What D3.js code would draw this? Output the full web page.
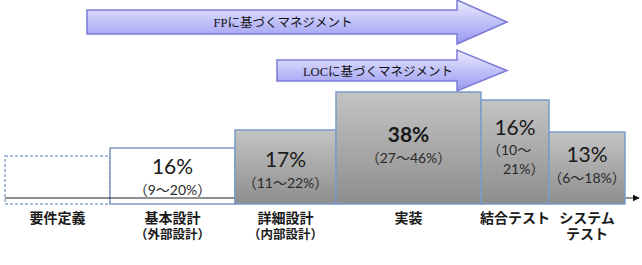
<!DOCTYPE html>
<html>
<head>
<meta charset="utf-8">
<script src="https://cdn.jsdelivr.net/npm/d3@7"></script>
<style>
  body { margin: 0; background: #fff; }
  svg { display: block; }
</style>
</head>
<body>
<div id="chart"></div>
<script>
// phases of development and their effort shares
var phases = ["要件定義", "基本設計", "詳細設計", "実装", "結合テスト", "システム"];
var subLabels = ["", "（外部設計）", "（内部設計）", "", "", "テスト"];
var spans = [105, 125, 101, 145, 68, 76];      // relative width of each phase
var levels = [48, 56, 74, 112, 104, 72];       // relative height of each block
var shares = [null, 16, 17, 38, 16, 13];
var rangeLo = [null, 9, 11, 27, 10, 6];
var rangeHi = [null, 20, 22, 46, 21, 18];
var arrowLabels = ["FPに基づくマネジメント", "LOCに基づくマネジメント"];

var width = 642, height = 265;
var margin = {left: 5, right: 17, bottom: 61, top: 92};

var svg = d3.select("#chart").append("svg")
    .attr("width", width)
    .attr("height", height);

var defs = svg.append("defs");
var g1 = defs.append("linearGradient").attr("id", "gray").attr("x1", 0).attr("y1", 0).attr("x2", 0).attr("y2", 1);
g1.append("stop").attr("offset", "0%").attr("stop-color", "#c4c4c4");
g1.append("stop").attr("offset", "100%").attr("stop-color", "#8d8d8d");
var g2 = defs.append("linearGradient").attr("id", "purple").attr("x1", 0).attr("y1", 0).attr("x2", 0).attr("y2", 1);
g2.append("stop").attr("offset", "0%").attr("stop-color", "#ececfe");
g2.append("stop").attr("offset", "55%").attr("stop-color", "#bcbcf8");
g2.append("stop").attr("offset", "100%").attr("stop-color", "#9898ef");
defs.append("marker").attr("id", "ah")
    .attr("viewBox", "0 0 10 10").attr("refX", 9).attr("refY", 5)
    .attr("markerWidth", 7).attr("markerHeight", 7).attr("markerUnits", "userSpaceOnUse")
    .attr("orient", "auto")
    .append("path").attr("d", "M0,0L10,5L0,10Z").attr("fill", "#111");

var total = d3.sum(spans);
var x = d3.scaleLinear().domain([0, total]).range([margin.left, width - margin.right]);
var y = d3.scaleLinear().domain([0, d3.max(levels)]).range([height - margin.bottom, margin.top]);

var starts = [];
spans.reduce(function (acc, s) { starts.push(acc); return acc + s; }, 0);

var data = phases.map(function (p, i) {
    return {name: p, sub: subLabels[i], x0: starts[i], x1: starts[i] + spans[i],
            level: levels[i], share: shares[i], lo: rangeLo[i], hi: rangeHi[i], i: i};
});

// management arrows
var arrowShapes = [
    {x0: 87, y0: 10, y1: 34, hx: 457, hy0: 0, hy1: 44, tip: 507, tx: 283},
    {x0: 277, y0: 60, y1: 81, hx: 457, hy0: 50, hy1: 91, tip: 507, tx: 378}
];
arrowShapes.forEach(function (a, i) {
    var mid = (a.y0 + a.y1) / 2;
    svg.append("path")
        .attr("d", "M" + a.x0 + "," + a.y0 + "H" + a.hx + "V" + a.hy0 + "L" + a.tip + "," + mid +
              "L" + a.hx + "," + a.hy1 + "V" + a.y1 + "H" + a.x0 + "Z")
        .attr("fill", "url(#purple)")
        .attr("stroke", "#7b7bd6")
        .attr("stroke-width", 1.5);
    svg.append("text")
        .attr("x", a.tx).attr("y", mid + 5)
        .attr("text-anchor", "middle")
        .attr("font-family", "'Liberation Serif', 'Noto Sans CJK JP'")
        .attr("font-size", 12.5)
        .attr("fill", "#111")
        .text(arrowLabels[i]);
});

var base = y(0);
var open = data.filter(function (d) { return d.i < 2; });
var filled = data.filter(function (d) { return d.i >= 2; });

// requirement phase (dashed) and basic design (white)
svg.selectAll(".open")
    .data(open)
    .enter().append("rect")
    .attr("class", "open")
    .attr("x", function (d) { return x(d.x0); })
    .attr("y", function (d) { return y(d.level); })
    .attr("width", function (d) { return x(d.x1) - x(d.x0); })
    .attr("height", function (d) { return base - y(d.level); })
    .attr("fill", "#fff")
    .attr("stroke", function (d) { return d.i == 0 ? "#8fa6c8" : "#5f7fb4"; })
    .attr("stroke-width", function (d) { return d.i == 0 ? 1.5 : 1.2; })
    .attr("stroke-dasharray", function (d) { return d.i == 0 ? "3,2" : null; });

// time axis
svg.append("line")
    .attr("x1", x(0)).attr("x2", width - 3)
    .attr("y1", y(6)).attr("y2", y(6))
    .attr("stroke", "#222").attr("stroke-width", 1)
    .attr("marker-end", "url(#ah)");

svg.selectAll(".bar")
    .data(filled)
    .enter().append("rect")
    .attr("class", "bar")
    .attr("x", function (d) { return x(d.x0); })
    .attr("y", function (d) { return y(d.level); })
    .attr("width", function (d) { return x(d.x1) - x(d.x0); })
    .attr("height", function (d) { return base - y(d.level); })
    .attr("fill", "url(#gray)")
    .attr("stroke", "#7b9cc9")
    .attr("stroke-width", 1.5);

// share texts, offset below top of each block
var textOffset = [0, 19, 30, 43, 28, 23];
var font = "Lato, 'Noto Sans CJK JP', sans-serif";
var labelled = data.filter(function (d) { return d.share != null; });

svg.selectAll(".share")
    .data(labelled)
    .enter().append("text")
    .attr("class", "share")
    .attr("x", function (d) { return x((d.x0 + d.x1) / 2); })
    .attr("y", function (d) { return y(d.level) + textOffset[d.i] + 7; })
    .attr("text-anchor", "middle")
    .attr("font-family", font)
    .attr("font-size", 21)
    .attr("font-weight", function (d) { return d.share == d3.max(shares) ? "bold" : "normal"; })
    .attr("fill", "#1a1a1a")
    .text(function (d) { return d.share + "%"; });

labelled.forEach(function (d) {
    var cx = x((d.x0 + d.x1) / 2);
    var ty = y(d.level) + textOffset[d.i] + 28;
    var t = svg.append("text")
        .attr("font-family", font)
        .attr("font-size", 14)
        .attr("fill", "#2a2a2a");
    if (x(d.x1) - x(d.x0) < 72) {
        // narrow block: range wraps onto two lines
        t.attr("x", cx - 28).attr("y", ty - 1).text("（10〜".replace("10", d.lo));
        svg.append("text")
            .attr("font-family", font).attr("font-size", 14).attr("fill", "#2a2a2a")
            .attr("x", cx - 12).attr("y", ty + 18).text(d.hi + "%）");
    } else {
        t.attr("x", cx).attr("y", ty).attr("text-anchor", "middle")
            .text("（" + d.lo + "〜" + d.hi + "%）");
    }
});

// phase labels
var labels = svg.selectAll(".phase")
    .data(data)
    .enter().append("text")
    .attr("class", "phase")
    .attr("text-anchor", "middle")
    .attr("font-family", "'Noto Sans CJK JP', sans-serif")
    .attr("font-weight", "bold")
    .attr("font-size", 14)
    .attr("fill", "#1a1a1a");
labels.append("tspan")
    .attr("x", function (d) { return x((d.x0 + d.x1) / 2); })
    .attr("y", base + 19)
    .text(function (d) { return d.name; });
labels.append("tspan")
    .attr("x", function (d) { return x((d.x0 + d.x1) / 2); })
    .attr("y", base + 35)
    .attr("font-size", function (d) { return d.sub.length > 3 ? 12.5 : 14; })
    .text(function (d) { return d.sub; });
</script>
</body>
</html>
